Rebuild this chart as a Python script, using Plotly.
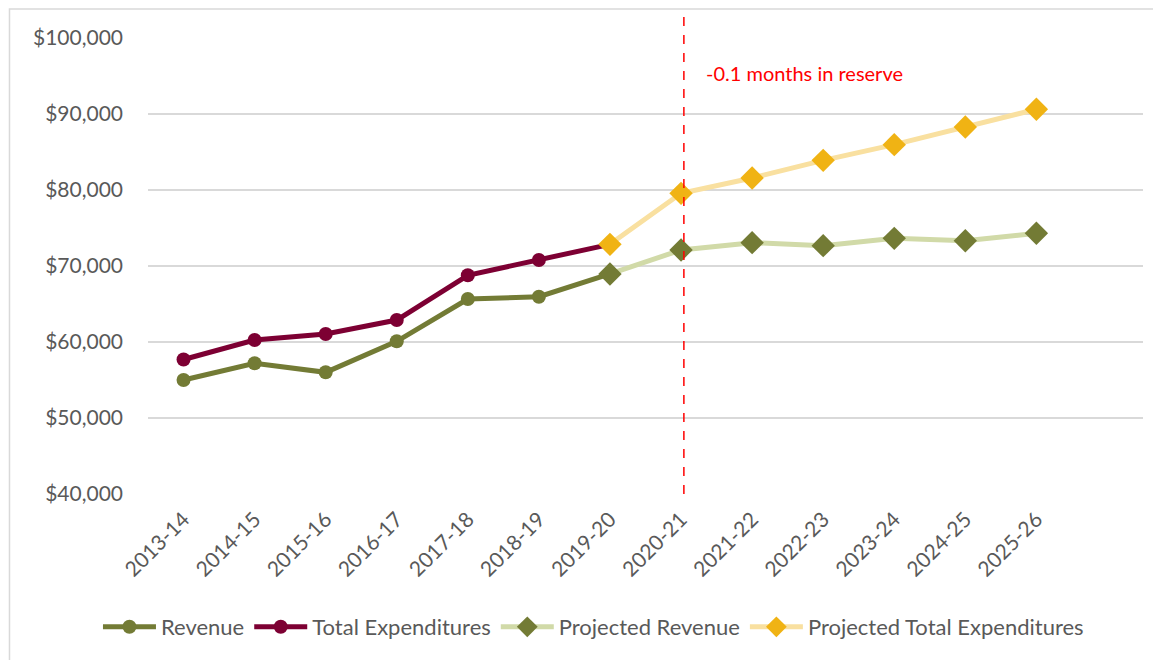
import plotly.graph_objects as go

years = ["2013-14", "2014-15", "2015-16", "2016-17", "2017-18", "2018-19", "2019-20",
         "2020-21", "2021-22", "2022-23", "2023-24", "2024-25", "2025-26"]
hist_idx = list(range(0, 7))
proj_idx = list(range(6, 13))

revenue = [55000, 57200, 56010, 60090, 65660, 65960, 68950]
total_exp = [57700, 60260, 61050, 62890, 68780, 70790, 72850]
proj_revenue = [68950, 72110, 73070, 72680, 73640, 73330, 74300]
proj_total_exp = [72850, 79560, 81580, 83900, 85970, 88290, 90620]

reserve_label = "-0.1 months in reserve"
reserve_year_idx = 7

FONT = "Lato, 'Open Sans', sans-serif"
GRAY = "#595959"

fig = go.Figure()
fig.add_trace(go.Scatter(x=hist_idx, y=revenue, name="Revenue", mode="lines+markers",
                         line=dict(color="#737B35", width=5),
                         marker=dict(symbol="circle", size=14, color="#737B35")))
fig.add_trace(go.Scatter(x=hist_idx, y=total_exp, name="Total Expenditures", mode="lines+markers",
                         line=dict(color="#7D0033", width=5),
                         marker=dict(symbol="circle", size=14, color="#7D0033")))
fig.add_trace(go.Scatter(x=proj_idx, y=proj_revenue, name="Projected Revenue", mode="lines+markers",
                         line=dict(color="#D1DAA8", width=5),
                         marker=dict(symbol="diamond", size=18, color="#737B35")))
fig.add_trace(go.Scatter(x=proj_idx, y=proj_total_exp, name="Projected Total Expenditures",
                         mode="lines+markers",
                         line=dict(color="#F9E0A0", width=5),
                         marker=dict(symbol="diamond", size=18, color="#F0B314")))

# reserve marker line
fig.add_shape(type="line", xref="x", yref="paper", x0=reserve_year_idx + 0.04,
              x1=reserve_year_idx + 0.04, y0=0, y1=1.062,
              line=dict(color="#FF0000", width=1.5, dash="dash"))
fig.add_annotation(x=reserve_year_idx + 0.32, y=95390, xref="x", yref="y", text=reserve_label,
                   showarrow=False, xanchor="left", yanchor="middle",
                   font=dict(family=FONT, size=20, color="#FF0000"))

# chart frame
fig.add_shape(type="rect", xref="paper", yref="paper", x0=-0.1392, x1=1.1, y0=-0.5, y1=1.0636,
              line=dict(color="#D9D9D9", width=1.5), fillcolor="rgba(0,0,0,0)", layer="below")

fig.update_layout(
    width=1153, height=652,
    margin=dict(l=140, r=18, t=30, b=166),
    paper_bgcolor="white", plot_bgcolor="white",
    font=dict(family=FONT, color=GRAY),
    showlegend=True,
    legend=dict(orientation="h", x=0.4477, xanchor="center", y=-0.2917, yanchor="middle",
                font=dict(family=FONT, size=22, color=GRAY), itemwidth=53,
                tracegroupgap=0, bgcolor="rgba(0,0,0,0)"),
    xaxis=dict(range=[-0.5, 13.5], tickmode="array", tickvals=list(range(len(years))),
               ticktext=years, tickangle=-45, showgrid=False, zeroline=False,
               showline=False, ticks="", ticklabelstandoff=8,
               tickfont=dict(family=FONT, size=21, color=GRAY)),
    yaxis=dict(range=[40000, 100000], dtick=10000, tick0=40000, tickprefix="$", tickformat=",",
               showgrid=True, gridcolor="#D9D9D9", gridwidth=1.5, zeroline=False,
               showline=False, ticks="", ticklabelstandoff=24,
               tickfont=dict(family=FONT, size=21, color=GRAY)),
)

fig.write_html("out.html")
